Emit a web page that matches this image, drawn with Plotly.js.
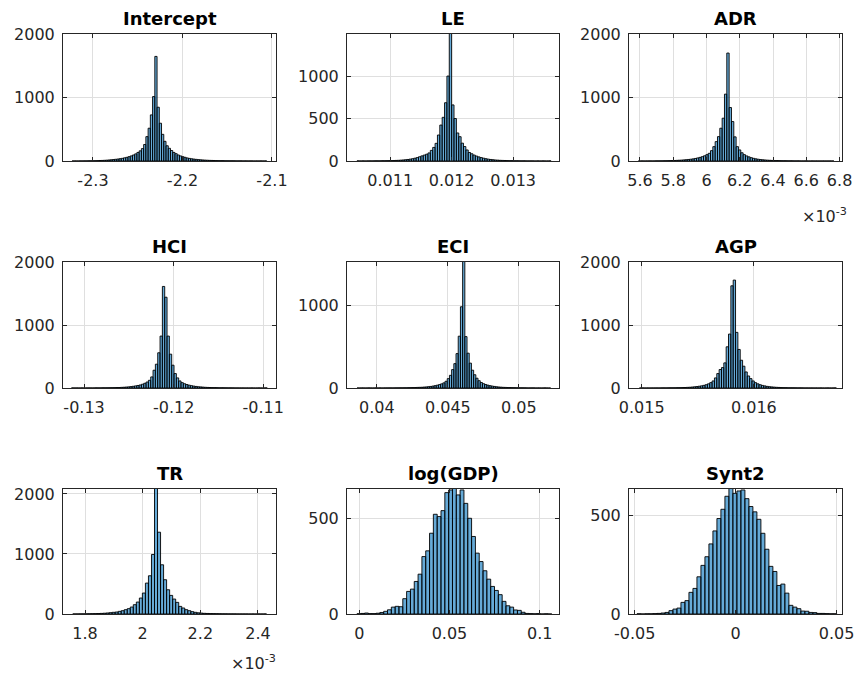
<!DOCTYPE html>
<html>
<head>
<meta charset="utf-8">
<script src="https://cdn.plot.ly/plotly-3.0.1.min.js"></script>
<style>html,body{margin:0;padding:0;background:#fff;}#chart{width:857px;height:682px;}</style>
</head>
<body>
<div id="chart"></div>
<script>
// ---------- DATA (histogram bin counts, bin start & width) ----------
const titles = ["Intercept","LE","ADR","HCI","ECI","AGP","TR","log(GDP)","Synt2"];

const interceptStart = -2.3234, interceptWidth = 0.0025;
const interceptCounts = [0,1,0,1,1,2,2,3,3,4,5,6,8,9,11,13,16,19,23,27,31,36,42,50,58,68,80,95,112,135,160,195,260,384,516,726,1015,1647,
  847,595,420,310,240,200,165,135,115,95,80,68,58,48,41,35,30,26,22,19,16,14,12,10,9,8,7,6,5,5,4,4,3,3,3,2,2,2,1,2,1,1,1,0,1,0,1,0,1];

const leStart = 0.01046, leWidth = 0.0000385;
const leCounts = [1,0,1,0,1,1,1,2,2,2,3,3,4,4,5,6,7,8,10,12,15,18,22,27,33,40,50,60,70,80,95,125,160,208,306,423,514,686,1000,1750,
  660,500,330,286,210,170,130,100,85,70,58,48,40,33,27,22,18,15,12,10,8,7,6,5,4,4,3,3,2,2,2,1,1,1,1,0,1,0,1,0,0,1];

// ADR in units of 1e-3
const adrStart = 5.59, adrWidth = 0.014;
const adrCounts = [0,1,0,1,1,1,1,2,2,3,3,4,5,6,7,8,10,12,14,17,20,24,28,33,40,48,57,68,82,100,121,163,226,305,384,516,674,1053,1700,
  842,621,380,226,174,130,100,80,65,52,42,34,28,23,19,16,13,11,9,8,7,6,5,4,4,3,3,2,2,2,1,1,1,1,0,1,0,1,0,0,1,0,0,1,0];

const hciStart = -0.1314, hciWidth = 0.00026;
const hciCounts = [1,0,1,0,1,0,1,1,1,1,2,2,2,3,3,4,4,5,6,7,8,10,12,15,18,22,27,33,40,48,60,75,95,122,176,282,378,559,824,1612,
  1441,824,537,362,229,160,112,85,68,55,45,37,30,25,20,17,14,11,9,8,7,6,5,4,4,3,3,2,2,2,1,1,1,1,0,1,0,1,0,0,1,0,0,1];

const eciStart = 0.0386, eciWidth = 0.000155;
const eciCounts = [0,0,1,0,0,1,0,0,1,0,1,0,1,1,1,1,1,2,2,2,2,3,3,4,4,5,6,7,8,9,11,13,16,19,23,28,34,41,50,62,81,113,153,222,294,415,625,980,1700,
  620,420,300,215,160,118,88,66,52,42,34,28,23,19,15,12,10,8,7,6,5,4,4,3,3,2,2,2,1,1,1,1,0,1,0,0,1,0,0];

const agpStart = 0.01498, agpWidth = 0.0000209;
const agpCounts = [0,1,0,1,0,1,1,1,1,2,2,2,3,3,4,4,5,6,7,8,10,12,15,19,23,28,34,42,52,66,85,112,160,229,293,324,399,654,856,1622,1713,
  883,612,441,346,255,191,149,112,85,66,52,41,33,26,21,17,14,11,9,7,6,5,4,4,3,3,2,2,2,1,1,1,1,0,1,0,1,0,0,1,0,0,1];

// TR in units of 1e-3
const trStart = 1.7575, trWidth = 0.0105;
const trCounts = [1,1,2,2,3,4,5,6,8,10,13,17,22,28,33,44,55,72,89,116,155,199,266,349,515,637,992,2300,
  1363,820,571,404,310,249,194,127,100,72,55,39,28,20,15,11,9,7,6,5,4,3,3,2,2,2,1,1,1,1,0,1,0,1,0,1];

const gdpStart = -0.00129, gdpWidth = 0.002118;
const gdpCounts = [1,3,5,2,2,4,8,14,22,36,40,38,80,118,130,170,208,300,330,422,521,509,540,634,648,660,622,648,578,500,
  405,318,274,226,182,144,123,101,66,43,36,21,19,9,3,2,1,2,0,1,0];

const syntStart = -0.04885, syntWidth = 0.00198;
const syntCounts = [1,0,1,1,2,3,5,8,17,25,30,59,68,110,130,189,247,291,356,422,485,532,598,640,613,625,630,586,546,519,
  481,410,329,242,216,145,152,106,44,35,27,15,14,8,7,3,3,2,1,1];

// axis ranges
const xRanges = [[-2.3335,-2.0955],[0.010298,0.013746],[5.534,6.8145],[-0.13235,-0.10858],[0.037893,0.05283],[0.014887,0.016786],[1.7236,2.4625],[-0.0068,0.1107],[-0.0528,0.0527]];
const yRanges = [[0,2000],[0,1495],[0,2000],[0,2000],[0,1520],[0,2000],[0,2083],[0,653],[0,635]];

// tick values & labels
const xTickVals = [[-2.3,-2.2,-2.1],[0.011,0.012,0.013],[5.6,5.8,6,6.2,6.4,6.6,6.8],[-0.13,-0.12,-0.11],[0.04,0.045,0.05],[0.015,0.016],[1.8,2,2.2,2.4],[0,0.05,0.1],[-0.05,0,0.05]];
const xTickText = [["-2.3","-2.2","-2.1"],["0.011","0.012","0.013"],["5.6","5.8","6","6.2","6.4","6.6","6.8"],["-0.13","-0.12","-0.11"],["0.04","0.045","0.05"],["0.015","0.016"],["1.8","2","2.2","2.4"],["0","0.05","0.1"],["-0.05","0","0.05"]];
const yTickVals = [[0,1000,2000],[0,500,1000],[0,1000,2000],[0,1000,2000],[0,1000],[0,1000,2000],[0,1000,2000],[0,500],[0,500]];

const starts = [interceptStart,leStart,adrStart,hciStart,eciStart,agpStart,trStart,gdpStart,syntStart];
const widths = [interceptWidth,leWidth,adrWidth,hciWidth,eciWidth,agpWidth,trWidth,gdpWidth,syntWidth];
const counts = [interceptCounts,leCounts,adrCounts,hciCounts,eciCounts,agpCounts,trCounts,gdpCounts,syntCounts];

// ---------- LAYOUT ----------
const W = 857, H = 682;
const colsPx = [[63,276],[347,559],[629,842]];
const rowsPx = [[34,161],[262,388],[489,614]];
const FONT = "DejaVu Sans, Liberation Sans, Arial, sans-serif";
const TXT = "#262626";

const traces = [];
const layout = {
  width: W, height: H,
  margin: {l:0, r:0, t:0, b:0},
  paper_bgcolor: "#ffffff", plot_bgcolor: "#ffffff",
  showlegend: false,
  bargap: 0,
  font: {family: FONT, color: TXT},
  annotations: []
};

for (let i = 0; i < 9; i++) {
  const r = Math.floor(i/3), c = i%3;
  const n = i === 0 ? "" : String(i+1);
  const w = widths[i];
  traces.push({
    type: "bar",
    x0: starts[i] + w/2, dx: w,
    y: counts[i],
    width: w,
    xaxis: "x"+n, yaxis: "y"+n,
    marker: {color: "rgba(0,114,189,0.6)", line: {color: "#000000", width: 0.9}},
    hoverinfo: "skip"
  });
  const xd = [colsPx[c][0]/W, colsPx[c][1]/W];
  const yd = [1 - rowsPx[r][1]/H, 1 - rowsPx[r][0]/H];
  const common = {
    showline: true, mirror: "ticks", linecolor: TXT, linewidth: 1,
    ticks: "inside", ticklen: 4, tickcolor: TXT, tickwidth: 1,
    showgrid: true, gridcolor: "#dfdfdf", gridwidth: 1, zeroline: false,
    tickfont: {family: FONT, size: 16, color: TXT},
    fixedrange: true, tickmode: "array"
  };
  layout["xaxis"+n] = Object.assign({}, common, {
    domain: xd, range: xRanges[i], anchor: "y"+n,
    tickvals: xTickVals[i], ticktext: xTickText[i], ticklabelstandoff: 5
  });
  layout["yaxis"+n] = Object.assign({}, common, {
    domain: yd, range: yRanges[i], anchor: "x"+n,
    tickvals: yTickVals[i], ticktext: yTickVals[i].map(String), ticklabelstandoff: 4
  });
  layout.annotations.push({
    text: "<b>"+titles[i]+"</b>", xref: "paper", yref: "paper",
    x: (xd[0]+xd[1])/2, y: yd[1], xanchor: "center", yanchor: "bottom", yshift: 3,
    showarrow: false, font: {family: FONT, size: 18, color: "#000000"}
  });
}
// exponent labels (ADR and TR)
layout.annotations.push({
  text: "×10<sup>-3</sup>", xref: "paper", yref: "paper",
  x: 849/W, y: 1 - 216/H, xanchor: "right", yanchor: "middle",
  showarrow: false, font: {family: FONT, size: 16, color: TXT}
});
layout.annotations.push({
  text: "×10<sup>-3</sup>", xref: "paper", yref: "paper",
  x: 278/W, y: 1 - 662/H, xanchor: "right", yanchor: "middle",
  showarrow: false, font: {family: FONT, size: 16, color: TXT}
});

Plotly.newPlot("chart", traces, layout, {staticPlot: true, displayModeBar: false});
</script>
</body>
</html>
